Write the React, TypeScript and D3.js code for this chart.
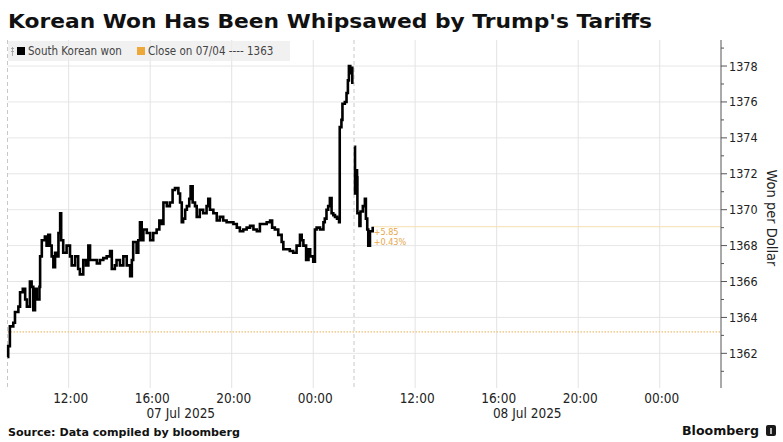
import React from 'react';
import * as d3 from 'd3';

const titleText = "Korean Won Has Been Whipsawed by Trump's Tariffs";
const sourceText = 'Source: Data compiled by bloomberg';
const seriesName = 'South Korean won';
const closeLabel = 'Close on 07/04 ---- 1363';
const yAxisTitle = 'Won per Dollar';

const sessionOpens = ['2025-07-07 09:00', '2025-07-08 09:00'];
const sessionCloses = ['2025-07-08 02:00', '2025-07-09 02:00'];
const dateLabels = ['07 Jul 2025', '08 Jul 2025'];
const xTickTimes = [
  '2025-07-07 12:00', '2025-07-07 16:00', '2025-07-07 20:00', '2025-07-08 00:00',
  '2025-07-08 12:00', '2025-07-08 16:00', '2025-07-08 20:00', '2025-07-09 00:00',
];
const yTickValues = [1362, 1364, 1366, 1368, 1370, 1372, 1374, 1376, 1378];
const yMinorValues = [1361, 1363, 1365, 1367, 1369, 1371, 1373, 1375, 1377, 1379];
const previousClose = 1363.2;

// minutes after session open
const session1Minutes = [
  0, 2, 7, 17, 22, 32, 37, 45, 52, 57, 66, 71, 76, 81, 86, 94, 96, 101, 110, 115,
  120, 125, 130, 135, 140, 145, 150, 155, 158, 164, 174, 184, 189, 199, 208, 213, 223, 231, 238, 243,
  253, 263, 272, 282, 292, 302, 307, 316, 321, 331, 341, 351, 361, 366, 370, 380, 385, 390, 395, 400,
  410, 420, 429, 439, 447, 454, 459, 469, 478, 486, 493, 503, 508, 513, 517, 523, 528, 535, 539, 545,
  552, 557, 566, 576, 586, 591, 596, 606, 616, 625, 635, 645, 655, 665, 675, 684, 694, 704, 714, 724,
  734, 743, 753, 763, 773, 779, 787, 797, 807, 812, 822, 831, 841, 851, 861, 866, 871, 879, 886, 891,
  900, 905, 910, 920, 930, 934, 939, 944, 949, 954, 959, 964, 970, 976, 978, 983, 986, 993, 998, 1002,
  1005, 1009, 1012, 1015,
];
const session1Values = [
  1361.8, 1362.4, 1363.5, 1363.7, 1364.3, 1364.6, 1365.4, 1365.6, 1365.0, 1364.6, 1366.0, 1365.7, 1364.4, 1365.6, 1365.0, 1365.7, 1367.4, 1368.3, 1368.5, 1368.0,
  1368.6, 1368.0, 1367.4, 1366.8, 1367.6, 1367.4, 1368.7, 1369.8, 1368.3, 1367.6, 1368.0, 1367.4, 1366.9, 1367.4, 1366.7, 1366.4, 1367.2, 1366.9, 1368.0, 1367.2,
  1367.2, 1367.0, 1367.2, 1367.3, 1367.4, 1367.7, 1366.7, 1366.9, 1367.2, 1366.9, 1367.4, 1366.9, 1366.3, 1367.2, 1368.2, 1367.6, 1368.3, 1369.3, 1368.3, 1368.9,
  1368.7, 1368.3, 1368.7, 1368.9, 1369.4, 1369.2, 1370.4, 1370.2, 1370.4, 1371.1, 1371.2, 1370.9, 1370.4, 1369.3, 1369.5, 1370.0, 1370.2, 1370.6, 1371.3, 1370.4,
  1370.2, 1369.6, 1370.0, 1369.8, 1370.2, 1370.6, 1370.0, 1369.8, 1369.4, 1369.6, 1369.4, 1369.3, 1369.3, 1369.2, 1369.0, 1368.8, 1368.9, 1369.0, 1369.1, 1368.9,
  1368.8, 1369.2, 1369.2, 1369.3, 1369.4, 1369.0, 1368.9, 1368.6, 1368.2, 1367.8, 1367.8, 1367.7, 1367.6, 1368.0, 1368.6, 1368.3, 1368.0, 1367.2, 1367.8, 1367.4,
  1367.1, 1368.9, 1369.0, 1368.9, 1369.3, 1369.5, 1370.0, 1370.2, 1370.65, 1369.8, 1369.7, 1369.6, 1369.5, 1369.3, 1374.6, 1375.0, 1375.9, 1376.0, 1376.5, 1377.2,
  1378.0, 1377.6, 1377.9, 1377.0,
];
const session2Minutes = [1, 3, 6, 9, 10, 16, 19, 26, 32, 35, 39, 42, 47, 55];
const session2Values = [1373.5, 1370.9, 1372.2, 1371.8, 1369.8, 1369.1, 1369.9, 1370.2, 1370.6, 1369.5, 1368.9, 1368.0, 1368.8, 1369.05];

const W = 783;
const H = 442;
const condensed = "'DejaVu Sans Condensed', 'DejaVu Sans', sans-serif";
const orange = '#eea83a';

export default function App() {
  const parse = d3.timeParse('%Y-%m-%d %H:%M');
  const opens = sessionOpens.map((s) => parse(s) as Date);
  const closes = sessionCloses.map((s) => parse(s) as Date);

  const x = d3
    .scaleTime()
    .domain([opens[0], closes[0], opens[1], closes[1]])
    .range([7.5, 354, 354, 700.5]);
  const y = d3.scaleLinear().domain([1360.07, 1379.45]).range([388, 40]);

  const plotLeft = 7.5;
  const plotRight = 721;
  const plotTop = 40;
  const plotBottom = 388;

  const toPoints = (open: Date, mins: number[], vals: number[]) =>
    mins.map((m, i) => ({ t: d3.timeMinute.offset(open, m), v: vals[i] }));
  const s1 = toPoints(opens[0], session1Minutes, session1Values);
  const s2 = toPoints(opens[1], session2Minutes, session2Values);

  const line = d3
    .line<{ t: Date; v: number }>()
    .x((d) => x(d.t))
    .y((d) => y(d.v))
    .curve(d3.curveStepAfter);

  const last = s2[s2.length - 1];
  const change = last.v - previousClose;
  const changePct = (change / previousClose) * 100;
  const fmtTime = d3.timeFormat('%H:%M');

  return (
    <svg
      width={W}
      height={H}
      style={{ position: 'absolute', left: 0, top: 0, background: '#fff' }}
    >
      <rect x={0} y={0} width={W} height={H} fill="#fff" />
      <text
        x={8}
        y={28}
        fontFamily="'DejaVu Sans', sans-serif"
        fontWeight="bold"
        fontSize={20}
        fill="#111"
        textLength={644}
        lengthAdjust="spacingAndGlyphs"
      >
        {titleText}
      </text>

      {yTickValues.map((v) => (
        <line key={'hg' + v} x1={plotLeft} x2={plotRight} y1={y(v)} y2={y(v)} stroke="#e6e6e6" strokeWidth={1} />
      ))}
      {xTickTimes.map((s) => {
        const xx = x(parse(s) as Date);
        return <line key={'vg' + s} x1={xx} x2={xx} y1={plotTop} y2={plotBottom} stroke="#e3e3e3" strokeWidth={1} />;
      })}
      {opens.map((o, i) => {
        const xx = x(o);
        return (
          <line key={'sb' + i} x1={xx} x2={xx} y1={plotTop} y2={plotBottom} stroke="#c8c8c8" strokeWidth={1} strokeDasharray="4,3" />
        );
      })}

      <line
        x1={plotLeft}
        x2={plotRight}
        y1={y(previousClose)}
        y2={y(previousClose)}
        stroke="#ebbf73"
        strokeWidth={1.2}
        strokeDasharray="1.5,1.5"
      />
      <line x1={x(last.t)} x2={plotRight} y1={y(last.v)} y2={y(last.v)} stroke="#f6dfb0" strokeWidth={1} />

      <path d={line(s1) || ''} fill="none" stroke="#000" strokeWidth={2.6} strokeLinejoin="miter" />
      <path d={line(s2) || ''} fill="none" stroke="#000" strokeWidth={2.6} strokeLinejoin="miter" />

      <text x={x(last.t) + 1} y={y(last.v) + 8} fontFamily={condensed} fontSize={9} fill="#e6a74a">
        {(change >= 0 ? '+' : '') + change.toFixed(2)}
      </text>
      <text x={x(last.t) + 1} y={y(last.v) + 18} fontFamily={condensed} fontSize={9} fill="#e6a74a">
        {(changePct >= 0 ? '+' : '') + changePct.toFixed(2) + '%'}
      </text>

      <rect x={8} y={41} width={282} height={20} fill="#ececec" fillOpacity={0.75} />
      <g stroke="#999" strokeWidth={0.8}>
        <line x1={12.5} x2={12.5} y1={47} y2={56} />
        <line x1={11} x2={14} y1={48.5} y2={48.5} />
        <line x1={11} x2={14} y1={51.5} y2={51.5} />
      </g>
      <rect x={17} y={47} width={8} height={8} fill="#000" />
      <text x={28} y={55} fontFamily={condensed} fontSize={11.5} fill="#444">
        {seriesName}
      </text>
      <rect x={137} y={47} width={8} height={8} fill={orange} />
      <text x={148} y={55} fontFamily={condensed} fontSize={11.5} fill="#444">
        {closeLabel}
      </text>

      <line x1={plotRight} x2={plotRight} y1={plotTop} y2={plotBottom} stroke="#555" strokeWidth={1} />
      {yMinorValues.map((v) => (
        <line key={'mt' + v} x1={plotRight} x2={plotRight + 3} y1={y(v)} y2={y(v)} stroke="#555" strokeWidth={1} />
      ))}
      {yTickValues.map((v) => (
        <g key={'yt' + v}>
          <line x1={plotRight} x2={plotRight + 6} y1={y(v)} y2={y(v)} stroke="#555" strokeWidth={1} />
          <text x={plotRight + 8} y={y(v) + 4.5} fontFamily={condensed} fontSize={12.5} fill="#222">
            {d3.format('d')(v)}
          </text>
        </g>
      ))}
      <text
        transform={`translate(767, ${(plotTop + plotBottom) / 2 + 4}) rotate(90)`}
        textAnchor="middle"
        fontFamily={condensed}
        fontSize={14.5}
        fill="#222"
      >
        {yAxisTitle}
      </text>

      {xTickTimes.map((s) => {
        const xx = x(parse(s) as Date);
        return (
          <text key={'xl' + s} x={xx + 2} y={403} textAnchor="middle" fontFamily={condensed} fontSize={13.5} fill="#222">
            {fmtTime(parse(s) as Date)}
          </text>
        );
      })}
      {dateLabels.map((d, i) => (
        <text
          key={'dl' + d}
          x={(x(opens[i]) + x(closes[i])) / 2}
          y={418}
          textAnchor="middle"
          fontFamily={condensed}
          fontSize={13.5}
          fill="#222"
        >
          {d}
        </text>
      ))}

      <text
        x={8}
        y={436}
        fontFamily="'DejaVu Sans', sans-serif"
        fontWeight="bold"
        fontSize={10.5}
        fill="#111"
        textLength={232}
        lengthAdjust="spacingAndGlyphs"
      >
        {sourceText}
      </text>
      <text
        x={682}
        y={435}
        fontFamily="'DejaVu Sans', sans-serif"
        fontWeight="bold"
        fontSize={13}
        fill="#111"
        textLength={77}
        lengthAdjust="spacingAndGlyphs"
      >
        Bloomberg
      </text>
      <rect x={766} y={425} width={10} height={11} rx={2} fill="#1a1a1a" />
      <line x1={771} x2={771} y1={428} y2={434} stroke="#fff" strokeWidth={1.4} />
    </svg>
  );
}
